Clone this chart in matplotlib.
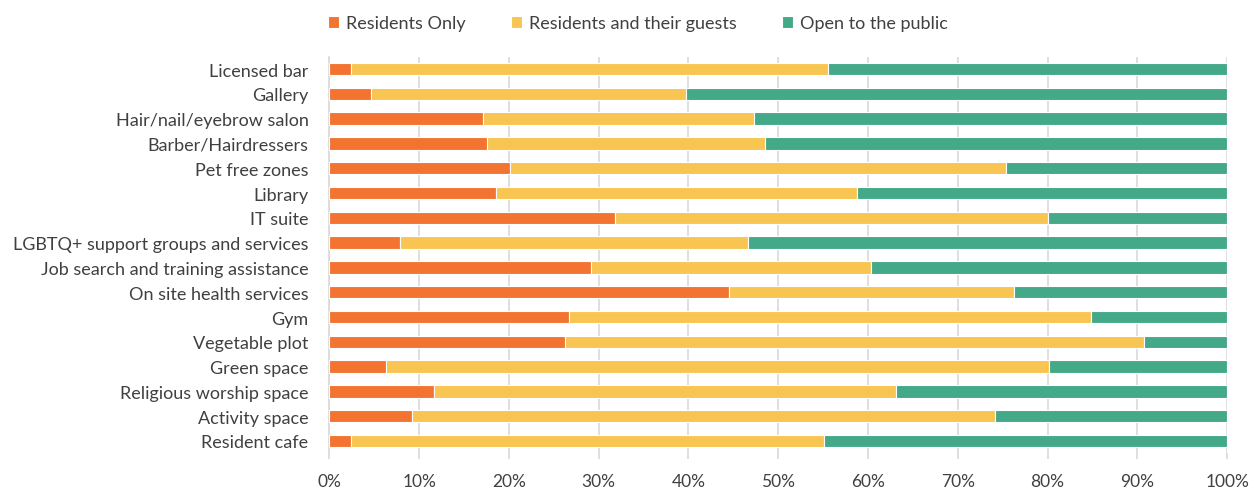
import matplotlib.pyplot as plt
import numpy as np
from matplotlib.ticker import PercentFormatter

plt.rcParams['font.family'] = ['Lato', 'DejaVu Sans']

services = ["Licensed bar", "Gallery", "Hair/nail/eyebrow salon", "Barber/Hairdressers",
            "Pet free zones", "Library", "IT suite", "LGBTQ+ support groups and services",
            "Job search and training assistance", "On site health services", "Gym",
            "Vegetable plot", "Green space", "Religious worship space", "Activity space",
            "Resident cafe"]

# percentage of respondents per access option
residents_only = [2.4, 4.7, 17.1, 17.6, 20.1, 18.6, 31.8, 7.9,
                  29.2, 44.5, 26.7, 26.2, 6.3, 11.7, 9.2, 2.4]
with_guests = [53.1, 35.0, 30.2, 30.9, 55.3, 40.2, 48.3, 38.7,
               31.1, 31.8, 58.1, 64.6, 73.9, 51.4, 65.0, 52.7]
public = [44.5, 60.3, 52.7, 51.5, 24.6, 41.2, 19.9, 53.4,
          39.7, 23.7, 15.2, 9.2, 19.8, 36.9, 25.8, 44.9]

colors = ["#F37430", "#F8C552", "#43A988"]
labels = ["Residents Only", "Residents and their guests", "Open to the public"]

fig = plt.figure(figsize=(12.53, 4.89), dpi=100)
ax = fig.add_axes([0.2628, 0.0708, 0.9793 - 0.2628, 0.882 - 0.0708])

y = np.arange(len(services))
left = np.zeros(len(services))
for vals, c, lab in zip([residents_only, with_guests, public], colors, labels):
    ax.barh(y, vals, left=left, height=0.5, color=c, edgecolor="white",
            linewidth=0.8, label=lab, zorder=3)
    left += np.array(vals)

ax.set_ylim(len(services) - 0.5, -0.5)
ax.set_xlim(0, 100)
ax.set_yticks(y)
ax.set_yticklabels(services)
ax.set_xticks(np.arange(0, 101, 10))
ax.xaxis.set_major_formatter(PercentFormatter(decimals=0))
ax.grid(axis="x", color="#D9D9D9", linewidth=1.2, zorder=0)
for s in ["top", "right", "bottom"]:
    ax.spines[s].set_visible(False)
ax.spines["left"].set_color("#D9D9D9")
ax.spines["left"].set_linewidth(1.2)
ax.tick_params(axis="y", length=0, pad=15, labelsize=13, labelcolor="#404040")
ax.tick_params(axis="x", length=4, width=1.2, color="#D9D9D9", pad=10,
               labelsize=12.5, labelcolor="#404040")

fig.legend(loc="upper center", bbox_to_anchor=(0.509, 1.0), ncol=3, frameon=False,
           fontsize=13, labelcolor="#404040", handlelength=0.6, handleheight=0.6,
           handletextpad=0.4, columnspacing=2.5)

fig.savefig("out.png", dpi=100)
